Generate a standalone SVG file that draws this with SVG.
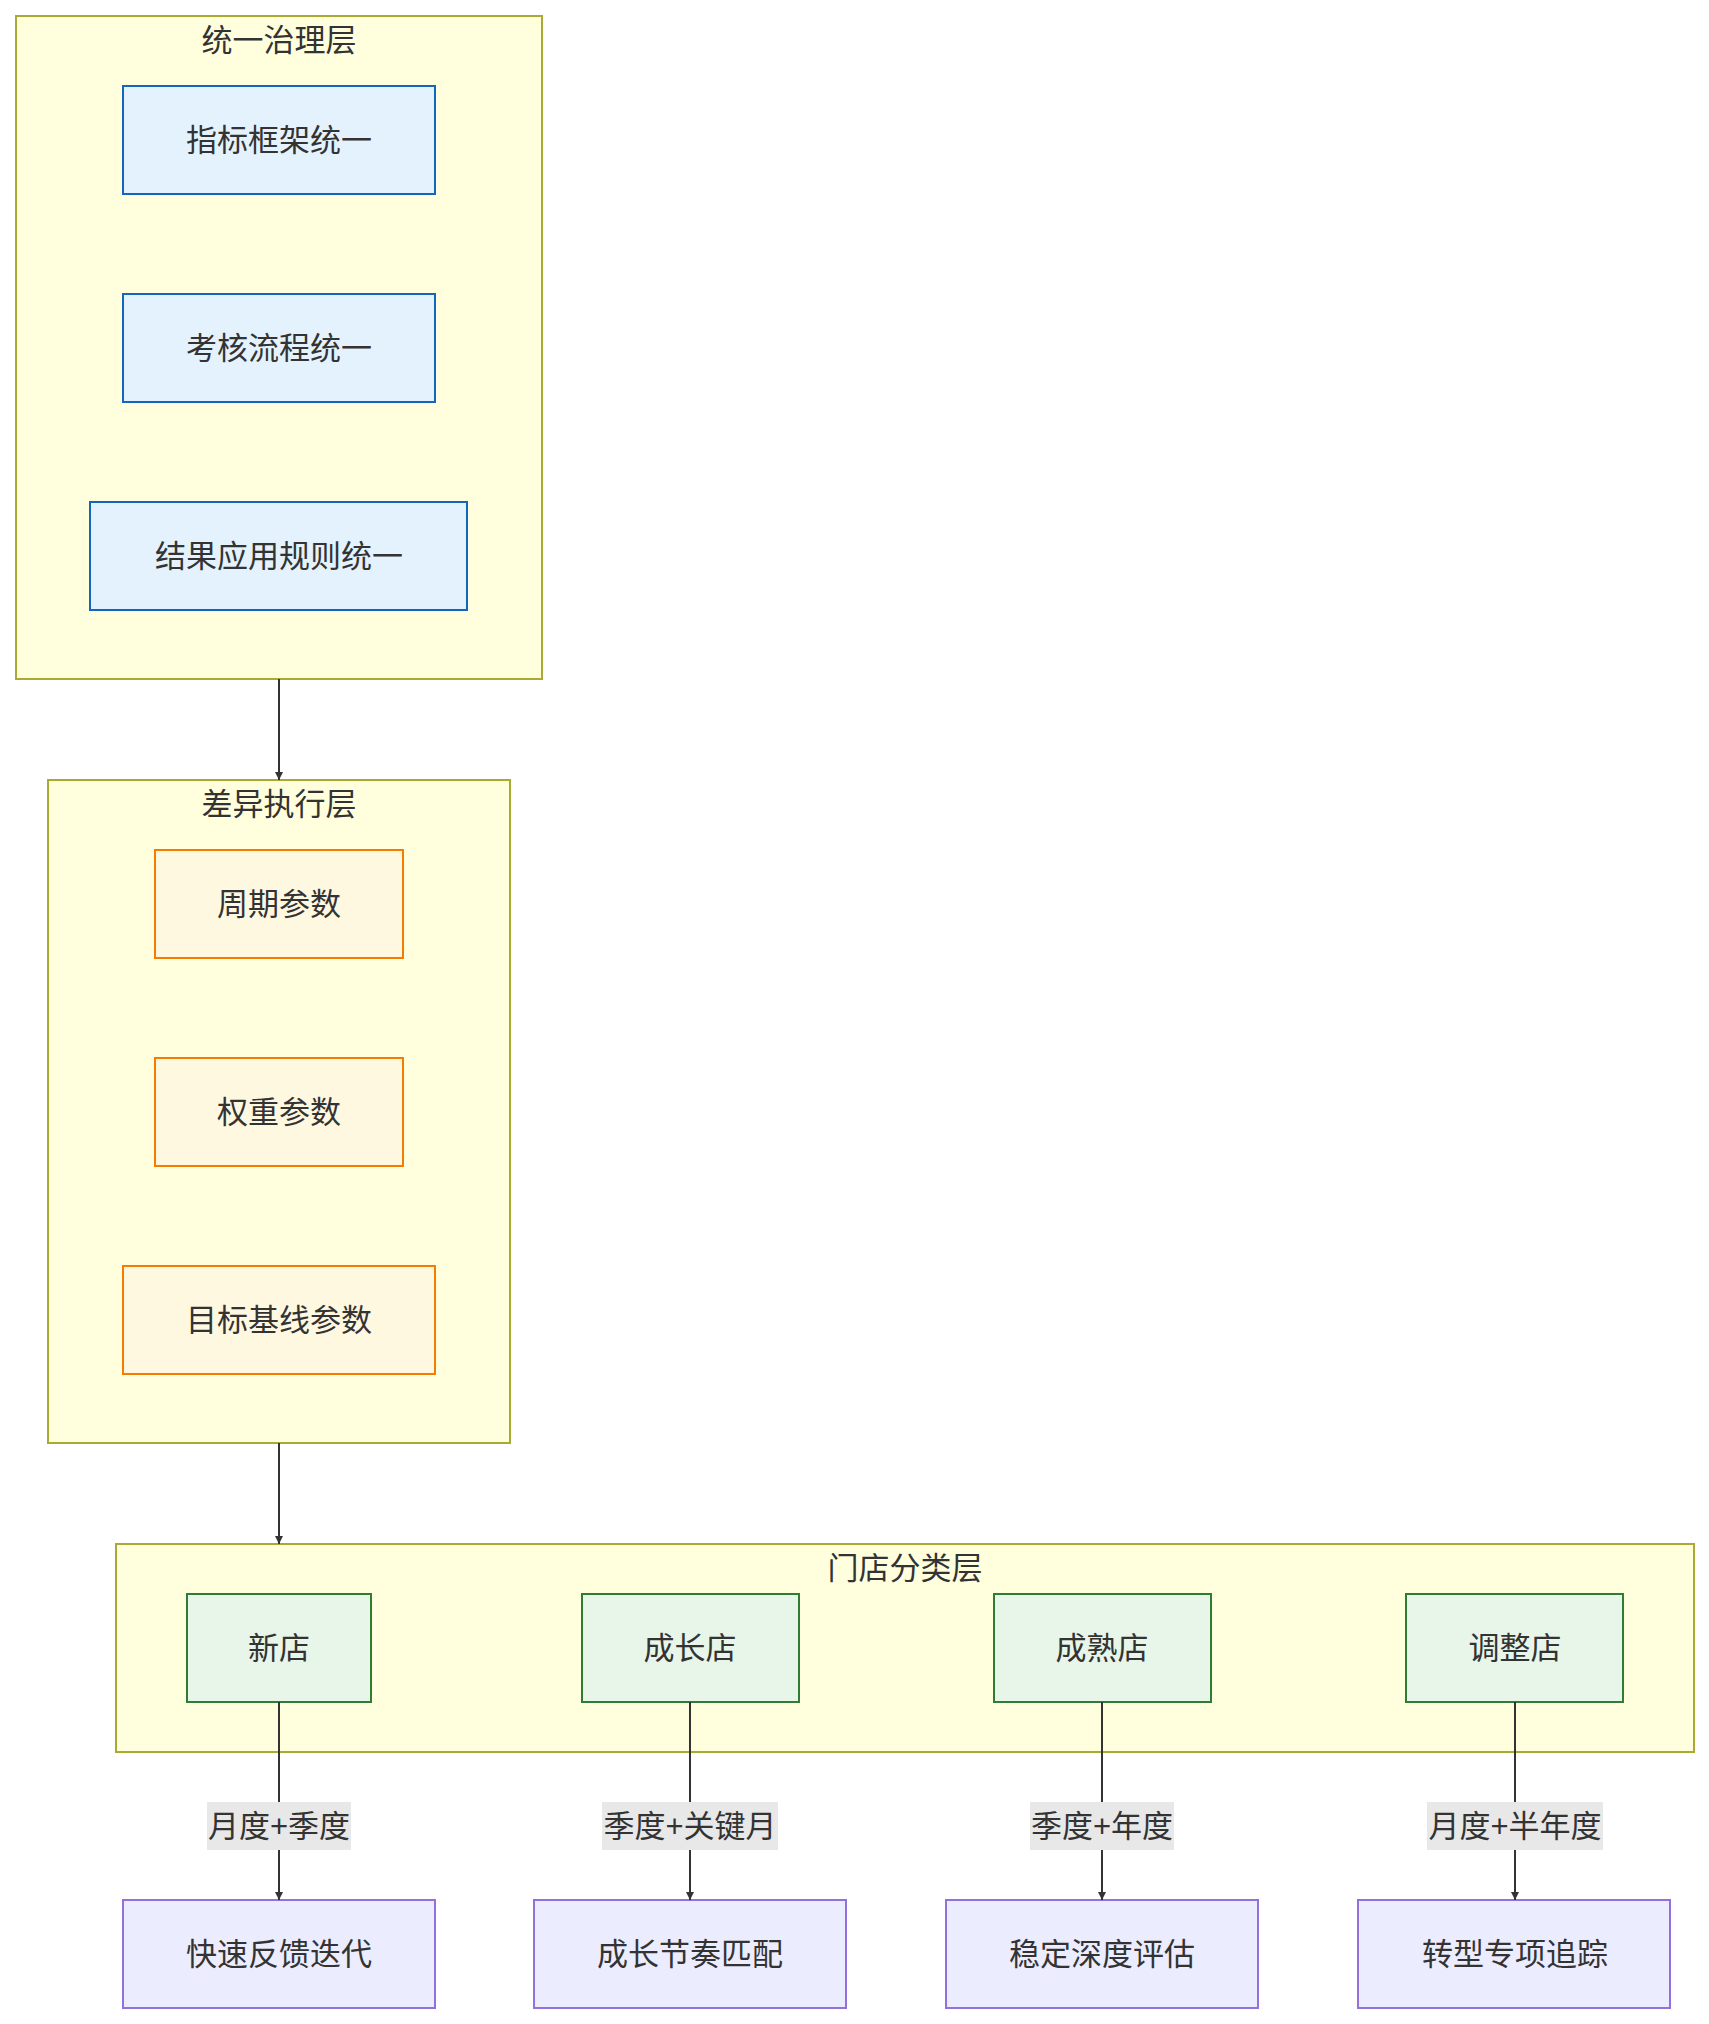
<svg xmlns="http://www.w3.org/2000/svg" width="1709" height="2024" viewBox="0 0 1709 2024">
<defs>
<style>
text{font-family:"Liberation Sans","Noto Sans CJK SC",sans-serif;font-size:31px;fill:#333;text-anchor:middle;dominant-baseline:central}
.cl{fill:#ffffde;stroke:#aaaa33;stroke-width:2}
.b{fill:#e3f2fd;stroke:#1565c0;stroke-width:2}
.o{fill:#fff8e1;stroke:#f57c00;stroke-width:2}
.g{fill:#e8f5e9;stroke:#2e7d32;stroke-width:2}
.p{fill:#ececff;stroke:#9370db;stroke-width:2}
.e{stroke:#333;stroke-width:2;fill:none;marker-end:url(#a)}
.lb{fill:#e8e8e8}
</style>
<marker id="a" viewBox="0 0 10 10" refX="10" refY="5" markerWidth="8" markerHeight="8" markerUnits="userSpaceOnUse" orient="auto"><path d="M0 0L10 5L0 10z" fill="#333"/></marker>
</defs>
<g id="c1"><rect class="cl" x="16" y="16" width="526" height="663"/><text x="279" y="40">统一治理层</text></g>
<g id="c2"><rect class="cl" x="48" y="780" width="462" height="663"/><text x="279" y="804">差异执行层</text></g>
<g id="c3"><rect class="cl" x="116" y="1544" width="1578" height="208"/><text x="905" y="1568">门店分类层</text></g>
<g id="n1"><rect class="b" x="123" y="86" width="312" height="108"/><text x="279" y="140">指标框架统一</text></g>
<g id="n2"><rect class="b" x="123" y="294" width="312" height="108"/><text x="279" y="348">考核流程统一</text></g>
<g id="n3"><rect class="b" x="90" y="502" width="377" height="108"/><text x="279" y="556">结果应用规则统一</text></g>
<g id="n4"><rect class="o" x="155" y="850" width="248" height="108"/><text x="279" y="904">周期参数</text></g>
<g id="n5"><rect class="o" x="155" y="1058" width="248" height="108"/><text x="279" y="1112">权重参数</text></g>
<g id="n6"><rect class="o" x="123" y="1266" width="312" height="108"/><text x="279" y="1320">目标基线参数</text></g>
<g id="s1"><rect class="g" x="187" y="1594" width="184" height="108"/><text x="279" y="1648">新店</text></g>
<g id="s2"><rect class="g" x="582" y="1594" width="217" height="108"/><text x="690" y="1648">成长店</text></g>
<g id="s3"><rect class="g" x="994" y="1594" width="217" height="108"/><text x="1102" y="1648">成熟店</text></g>
<g id="s4"><rect class="g" x="1406" y="1594" width="217" height="108"/><text x="1515" y="1648">调整店</text></g>
<g id="r1"><rect class="p" x="123" y="1900" width="312" height="108"/><text x="279" y="1954">快速反馈迭代</text></g>
<g id="r2"><rect class="p" x="534" y="1900" width="312" height="108"/><text x="690" y="1954">成长节奏匹配</text></g>
<g id="r3"><rect class="p" x="946" y="1900" width="312" height="108"/><text x="1102" y="1954">稳定深度评估</text></g>
<g id="r4"><rect class="p" x="1358" y="1900" width="312" height="108"/><text x="1515" y="1954">转型专项追踪</text></g>
<g id="edges">
<path class="e" d="M279 679V780"/>
<path class="e" d="M279 1443V1544"/>
<path class="e" d="M279 1702V1900"/>
<path class="e" d="M690 1702V1900"/>
<path class="e" d="M1102 1702V1900"/>
<path class="e" d="M1515 1702V1900"/>
<rect class="lb" x="207" y="1802" width="144" height="48"/><text x="279" y="1826">月度+季度</text>
<rect class="lb" x="602" y="1802" width="176" height="48"/><text x="690" y="1826">季度+关键月</text>
<rect class="lb" x="1030" y="1802" width="144" height="48"/><text x="1102" y="1826">季度+年度</text>
<rect class="lb" x="1427" y="1802" width="176" height="48"/><text x="1515" y="1826">月度+半年度</text>
</g>
</svg>
